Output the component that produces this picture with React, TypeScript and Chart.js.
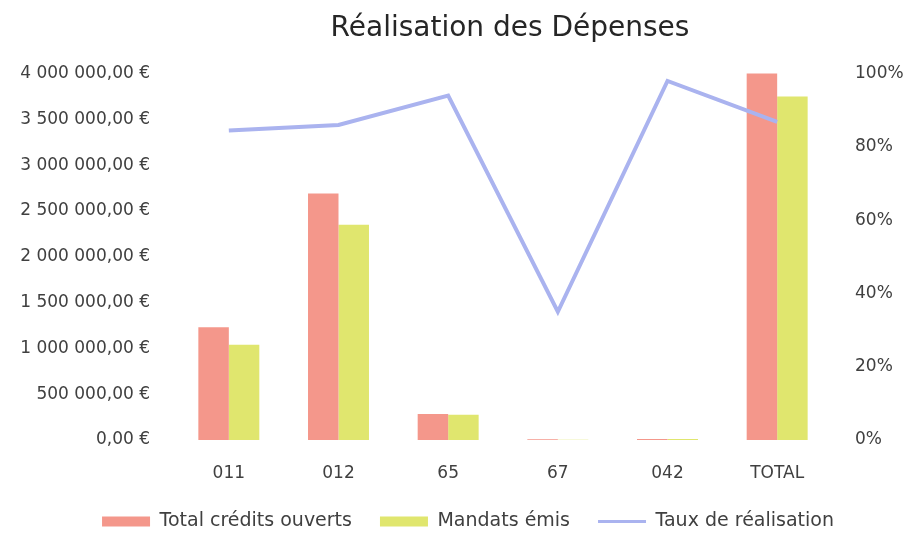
import React, { useEffect, useRef } from "react";
import { Chart, registerables } from "chart.js";

Chart.register(...registerables);

const TITLE = "Réalisation des Dépenses";
const categories = ["011", "012", "65", "67", "042", "TOTAL"];
const creditsOuverts = [1230000, 2690000, 285000, 8000, 10000, 4050000];
const mandatsEmis = [1040000, 2350000, 275000, 2800, 9800, 3750000];
const tauxRealisation = [0.845, 0.86, 0.94, 0.35, 0.98, 0.868];
const seriesNames = ["Total crédits ouverts", "Mandats émis", "Taux de réalisation"];

const RED = "#f4978b";
const GREEN = "#e0e66e";
const BLUE = "#aab3ef";
const TEXT = "#404040";
const FONT = "'DejaVu Sans', sans-serif";

function euro(v: number): string {
  const s = Math.round(v).toString().replace(/\B(?=(\d{3})+(?!\d))/g, " ");
  return s + ",00 €";
}

const boxShift = {
  id: "boxShift",
  afterLayout(chart: any) {
    const lg = chart.legend;
    if (lg) {
      lg.left += 14;
      lg.right += 14;
    }
    const tb = chart.titleBlock;
    if (tb) {
      tb.left += 7;
      tb.right += 7;
    }
  },
};

export default function App() {
  const ref = useRef<HTMLCanvasElement | null>(null);

  useEffect(() => {
    if (!ref.current) return;
    const chart = new Chart(ref.current, {
      type: "bar",
      plugins: [boxShift],
      data: {
        labels: categories,
        datasets: [
          {
            type: "bar",
            label: seriesNames[0],
            data: creditsOuverts,
            backgroundColor: RED,
            yAxisID: "y",
            order: 1,
            barPercentage: 1,
            categoryPercentage: 0.556,
          },
          {
            type: "bar",
            label: seriesNames[1],
            data: mandatsEmis,
            backgroundColor: GREEN,
            yAxisID: "y",
            order: 1,
            barPercentage: 1,
            categoryPercentage: 0.556,
          },
          {
            type: "line",
            label: seriesNames[2],
            data: tauxRealisation,
            borderColor: BLUE,
            backgroundColor: BLUE,
            borderWidth: 4,
            pointRadius: 0,
            tension: 0,
            yAxisID: "y1",
            order: 0,
          } as any,
        ],
      },
      options: {
        responsive: false,
        animation: false,
        layout: { padding: { top: 0, left: 0, right: 0, bottom: -8 } },
        scales: {
          x: {
            grid: { display: false, drawTicks: false },
            border: { display: false },
            ticks: { color: TEXT, font: { family: FONT, size: 17 }, padding: 23 },
            afterFit: (s: any) => {
              s.height = 44;
            },
          },
          y: {
            position: "left",
            min: 0,
            max: 4000000,
            grid: { display: false, drawTicks: false },
            border: { display: false },
            ticks: {
              stepSize: 500000,
              color: TEXT,
              font: { family: FONT, size: 17 },
              padding: 24,
              callback: (v: any) => euro(Number(v)),
            },
            afterFit: (s: any) => {
              s.width = 174;
            },
          },
          y1: {
            position: "right",
            min: 0,
            max: 1,
            grid: { display: false, drawTicks: false },
            border: { display: false },
            ticks: {
              stepSize: 0.2,
              color: TEXT,
              font: { family: FONT, size: 17 },
              padding: 23,
              callback: (v: any) => Math.round(Number(v) * 100) + "%",
            },
            afterFit: (s: any) => {
              s.width = 76;
            },
          },
        },
        plugins: {
          tooltip: { enabled: false },
          title: {
            display: true,
            text: TITLE,
            fullSize: false,
            color: "#262626",
            font: { family: FONT, size: 28, weight: "normal" },
            padding: { top: 12, bottom: 28 },
          },
          legend: {
            position: "bottom",
            labels: {
              color: TEXT,
              font: { family: FONT, size: 19 },
              usePointStyle: true,
              pointStyleWidth: 48,
              boxHeight: 10,
              padding: 28,
              generateLabels: (c: any) => {
                const items = (Chart.defaults.plugins.legend.labels as any).generateLabels(c);
                items.sort((a: any, b: any) => a.datasetIndex - b.datasetIndex);
                return items.map((it: any) => {
                  if (it.datasetIndex === 2) {
                    return { ...it, pointStyle: "line", strokeStyle: BLUE, fillStyle: BLUE, lineWidth: 3 };
                  }
                  return { ...it, pointStyle: "rect", lineWidth: 0 };
                });
              },
            },
          },
        },
      },
    });
    return () => chart.destroy();
  }, []);

  return (
    <div style={{ position: "fixed", left: 0, top: 0, width: 908, height: 533, background: "#fff" }}>
      <canvas ref={ref} width={908} height={533} style={{ display: "block" }} />
    </div>
  );
}
